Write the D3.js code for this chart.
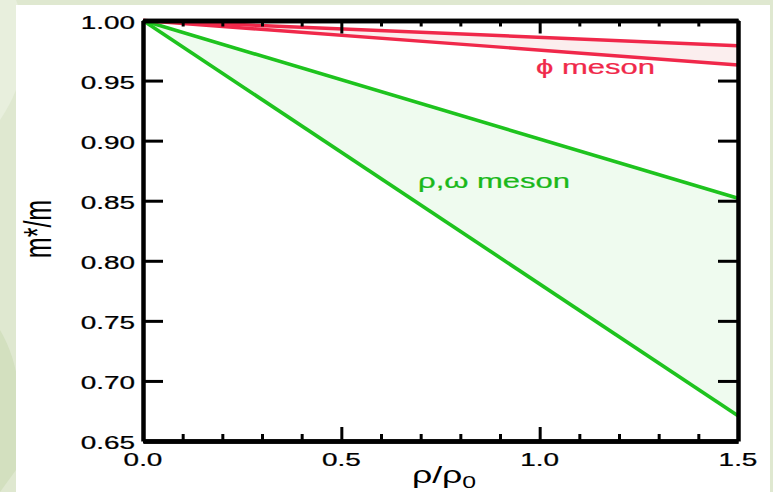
<!DOCTYPE html>
<html>
  <head>
    <title>In-medium meson masses</title>
    <script src="https://cdn.jsdelivr.net/npm/d3@7"></script>
    <style type="text/css">

html, body {
  margin: 0;
  padding: 0;
  background: #dfe8d0;
}

svg {
  display: block;
  font-family: "Liberation Sans", Arial, Helvetica, sans-serif;
}

.axis path, .axis line {
  stroke: #000;
}

.axis path {
  stroke-width: 4.5;
}

.axis line {
  stroke-width: 3;
}

    </style>
  </head>
  <body>
    <script type="text/javascript">

// x = rho/rho0, y = m*/m
var xMajor = [0.0, 0.5, 1.0, 1.5];
var xMinor = [0.1, 0.2, 0.3, 0.4, 0.6, 0.7, 0.8, 0.9, 1.1, 1.2, 1.3, 1.4];
var xLabels = ["0.0", "0.5", "1.0", "1.5"];
var yMajor = [0.65, 0.70, 0.75, 0.80, 0.85, 0.90, 0.95, 1.00];
var yLabels = ["0.65", "0.70", "0.75", "0.80", "0.85", "0.90", "0.95", "1.00"];

var density = [0.0, 1.5];
var phiUpper = [1.000, 0.979];
var phiLower = [1.000, 0.963];
var rhoUpper = [1.000, 0.852];
var rhoLower = [1.000, 0.671];

var W = 773, H = 492,
    plotLeft = 143, plotRight = 738, plotTop = 20.5, plotBottom = 441,
    stretch = 1.55;

var svg = d3.select("body").append("svg")
    .attr("width", W)
    .attr("height", H);

// soft background leaves
var bg = svg.append("g");
bg.append("rect").attr("width", W).attr("height", H).attr("fill", "#dfe8d0");
bg.append("path")
    .attr("d", "M0,120 Q40,60 16,0 L0,0 Z")
    .attr("fill", "#e8efdd");
bg.append("path")
    .attr("d", "M0,330 Q30,380 16,470 L0,492 Z")
    .attr("fill", "#d3e0bf");

svg.append("rect")
    .attr("x", 16).attr("y", 5)
    .attr("width", 754).attr("height", H - 5)
    .attr("fill", "#fff");

var x = d3.scaleLinear().domain([0, 1.5]).range([plotLeft, plotRight]);
var y = d3.scaleLinear().domain([0.65, 1.0]).range([plotBottom, plotTop]);

function band(upper, lower) {
  var pts = density.map(function(d, i) { return [x(d), y(upper[i])]; });
  for (var i = density.length - 1; i >= 0; i--) pts.push([x(density[i]), y(lower[i])]);
  return pts;
}

function edge(vals) {
  return d3.line()(density.map(function(d, i) { return [x(d), y(vals[i])]; }));
}

// shaded bands
svg.append("path")
    .attr("d", d3.line()(band(rhoUpper, rhoLower)) + "Z")
    .attr("fill", "#effbef")
    .attr("stroke", "#1ec31e")
    .attr("stroke-width", 2);

svg.append("path")
    .attr("d", d3.line()(band(phiUpper, phiLower)) + "Z")
    .attr("fill", "#fbeeee");

[rhoUpper, rhoLower].forEach(function(s) {
  svg.append("path")
      .attr("d", edge(s))
      .attr("fill", "none")
      .attr("stroke", "#1ec31e")
      .attr("stroke-width", 3.6);
});

[phiUpper, phiLower].forEach(function(s) {
  svg.append("path")
      .attr("d", edge(s))
      .attr("fill", "none")
      .attr("stroke", "#f0284a")
      .attr("stroke-width", 3.4);
});

// axes with inward ticks
function addAxis(axis, tx, ty) {
  var g = svg.append("g")
      .attr("class", "axis")
      .attr("transform", "translate(" + tx + "," + ty + ")")
      .call(axis.tickFormat("").tickSizeOuter(0).tickPadding(0));
  g.selectAll("text").remove();
  return g;
}

addAxis(d3.axisBottom(x).tickValues(xMinor).tickSizeInner(-7), 0, plotBottom);
addAxis(d3.axisBottom(x).tickValues(xMajor).tickSizeInner(-14), 0, plotBottom);
addAxis(d3.axisTop(x).tickValues(xMinor).tickSizeInner(-6), 0, plotTop);
addAxis(d3.axisTop(x).tickValues(xMajor).tickSizeInner(-13), 0, plotTop);
addAxis(d3.axisLeft(y).tickValues(yMajor).tickSizeInner(-20), plotLeft, 0);
addAxis(d3.axisRight(y).tickValues(yMajor).tickSizeInner(-20), plotRight, 0);

// tick labels (horizontally stretched like the original)
function label(text, px, py, size, anchor, color) {
  return svg.append("text")
      .attr("transform", "translate(" + px + "," + py + ") scale(" + stretch + ",1)")
      .attr("text-anchor", anchor)
      .attr("font-size", size)
      .attr("fill", color || "#000")
      .attr("stroke", color || "#000")
      .attr("stroke-width", 0.25)
      .text(text);
}

yMajor.forEach(function(v, i) {
  label(yLabels[i], 135, y(v) + 8, 18, "end");
});

xMajor.forEach(function(v, i) {
  label(xLabels[i], x(v), 466, 18, "middle");
});

// axis titles
svg.append("text")
    .attr("transform", "translate(51,229) scale(" + stretch + ",1) rotate(-90)")
    .attr("text-anchor", "middle")
    .attr("font-size", 25)
    .text("m*/m");

var xt = svg.append("text")
    .attr("transform", "translate(444,483) scale(" + stretch + ",1)")
    .attr("text-anchor", "middle")
    .attr("font-size", 23);
xt.append("tspan").text("ρ/ρ");
xt.append("tspan").attr("font-size", 16).attr("dy", 5).text("0");

// curve annotations
label("ϕ meson", 536, 74, 20, "start", "#f0284a");
label("ρ,ω meson", 418, 188, 20, "start", "#1ab81a");

    </script>
  </body>
</html>
